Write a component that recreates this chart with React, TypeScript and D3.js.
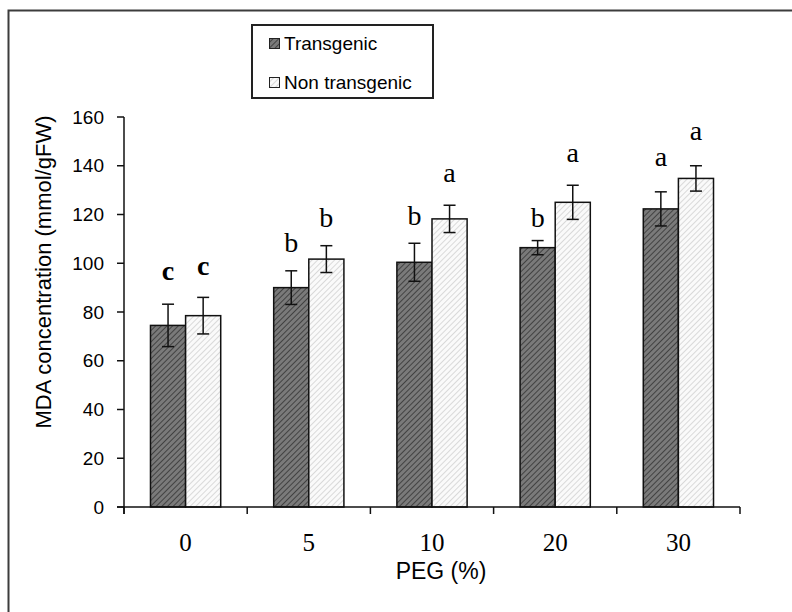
import React from "react";
import * as d3 from "d3";

const categories = ["0", "5", "10", "20", "30"];
const transgenic = [74.5, 90, 100.4, 106.4, 122.3];
const transgenicErr = [8.7, 6.9, 7.8, 2.9, 7.0];
const nonTransgenic = [78.5, 101.7, 118.2, 125, 134.8];
const nonTransgenicErr = [7.5, 5.5, 5.6, 7.0, 5.2];
const transgenicLetters = ["c", "b", "b", "b", "a"];
const nonTransgenicLetters = ["c", "b", "a", "a", "a"];
const transgenicLetterAt = [93.1, 104.6, 115.7, 114.9, 139.9];
const nonTransgenicLetterAt = [95.2, 114.9, 133.3, 141.5, 150.6];
const yTicks = [0, 20, 40, 60, 80, 100, 120, 140, 160];

const W = 792;
const H = 612;
const left = 124;
const right = 740;
const top = 117;
const bottom = 507;

export default function App() {
  const x = d3.scaleBand<string>().domain(categories).range([left, right]).paddingInner(0).paddingOuter(0);
  const y = d3.scaleLinear().domain([0, 160]).range([bottom, top]);
  const bw = x.bandwidth() * 0.285;
  const boundaries = d3.range(categories.length + 1).map((i) => left + i * x.bandwidth());

  const series = [
    { vals: transgenic, errs: transgenicErr, letters: transgenicLetters, at: transgenicLetterAt, fill: "url(#hatchDark)", off: -1 },
    { vals: nonTransgenic, errs: nonTransgenicErr, letters: nonTransgenicLetters, at: nonTransgenicLetterAt, fill: "url(#hatchLight)", off: 0 },
  ];

  return (
    <svg width={W} height={H} style={{ position: "fixed", left: 0, top: 0, background: "#fff" }}>
      <defs>
        <pattern id="hatchDark" patternUnits="userSpaceOnUse" width={4} height={4} patternTransform="rotate(45)">
          <rect width={4} height={4} fill="#7a7a7a" />
          <line x1={0} y1={0} x2={0} y2={4} stroke="#333" strokeWidth={1.6} />
        </pattern>
        <pattern id="hatchLight" patternUnits="userSpaceOnUse" width={4} height={4} patternTransform="rotate(45)">
          <rect width={4} height={4} fill="#fafafa" />
          <line x1={0} y1={0} x2={0} y2={4} stroke="#c4c4c4" strokeWidth={1.2} />
        </pattern>
      </defs>
      <rect x={8.5} y={10.5} width={W} height={H} fill="none" stroke="#3c3c3c" strokeWidth={2} />

      {/* legend */}
      <rect x={252} y={25} width={181} height={73} fill="#fff" stroke="#222" strokeWidth={2} />
      <rect x={269.5} y={38.5} width={10} height={10} fill="url(#hatchDark)" stroke="#222" strokeWidth={1} />
      <text x={284} y={50} fontFamily="Liberation Sans, Arial" fontSize={19} fill="#000">Transgenic</text>
      <rect x={269.5} y={77.5} width={10} height={10} fill="url(#hatchLight)" stroke="#222" strokeWidth={1} />
      <text x={284} y={89} fontFamily="Liberation Sans, Arial" fontSize={19} fill="#000">Non transgenic</text>

      {/* bars */}
      {series.map((s, si) =>
        categories.map((c, i) => {
          const cx = (x(c) as number) + x.bandwidth() / 2;
          const bx = cx + s.off * bw;
          const mid = bx + bw / 2;
          const v = s.vals[i];
          const e = s.errs[i];
          return (
            <g key={si + "-" + c}>
              <rect x={bx} y={y(v)} width={bw} height={bottom - y(v)} fill={s.fill} stroke="#111" strokeWidth={1.5} />
              <line x1={mid} x2={mid} y1={y(v + e)} y2={y(v - e)} stroke="#111" strokeWidth={1.5} />
              <line x1={mid - 6} x2={mid + 6} y1={y(v + e)} y2={y(v + e)} stroke="#111" strokeWidth={1.5} />
              <line x1={mid - 6} x2={mid + 6} y1={y(v - e)} y2={y(v - e)} stroke="#111" strokeWidth={1.5} />
              <text
                x={mid}
                y={y(s.at[i])}
                textAnchor="middle"
                fontFamily="Liberation Serif, Times New Roman, serif"
                fontSize={28}
                fontWeight={s.letters[i] === "c" ? "bold" : "normal"}
                fill="#000"
              >
                {s.letters[i]}
              </text>
            </g>
          );
        })
      )}

      {/* axes */}
      <line x1={left} x2={left} y1={top} y2={bottom + 7} stroke="#111" strokeWidth={1.5} />
      <line x1={left - 7} x2={right} y1={bottom} y2={bottom} stroke="#111" strokeWidth={1.5} />
      {yTicks.map((t) => (
        <g key={"yt" + t}>
          <line x1={left - 7} x2={left} y1={y(t)} y2={y(t)} stroke="#111" strokeWidth={1.5} />
          <text x={104} y={y(t) + 6.5} textAnchor="end" fontFamily="Liberation Sans, Arial" fontSize={19} fill="#000">
            {t}
          </text>
        </g>
      ))}
      {boundaries.map((b, i) => (
        <line key={"xt" + i} x1={b} x2={b} y1={bottom} y2={bottom + 7} stroke="#111" strokeWidth={1.5} />
      ))}
      {categories.map((c) => (
        <text
          key={"xl" + c}
          x={(x(c) as number) + x.bandwidth() / 2}
          y={551}
          textAnchor="middle"
          fontFamily="Liberation Serif, Times New Roman, serif"
          fontSize={25}
          fill="#000"
        >
          {c}
        </text>
      ))}
      <text x={441} y={579} textAnchor="middle" fontFamily="Liberation Sans, Arial" fontSize={23} fill="#000">
        PEG (%)
      </text>
      <text
        transform={`translate(51,272) rotate(-90)`}
        textAnchor="middle"
        fontFamily="Liberation Sans, Arial"
        fontSize={22}
        fill="#000"
      >
        MDA concentration (mmol/gFW)
      </text>
    </svg>
  );
}
